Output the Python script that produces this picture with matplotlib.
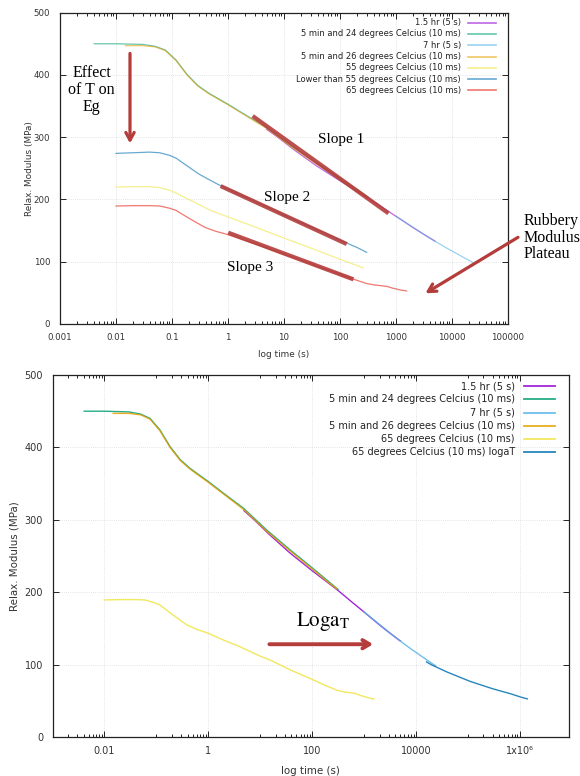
import matplotlib
matplotlib.use('Agg')
import matplotlib.pyplot as plt
from matplotlib.ticker import FixedLocator, FuncFormatter, NullFormatter

plt.rcParams['font.family'] = 'DejaVu Sans'
plt.rcParams['mathtext.fontset'] = 'dejavusans'

# relaxation modulus curves: time (s) and modulus (MPa)
t_15hr = [4.9, 8, 15, 38, 100, 300, 600, 1000, 2000, 3000, 5000]
E_15hr = [312.7, 299, 280, 254, 230, 204, 186, 173, 155, 145, 133]

t_24C = [0.0041, 0.01, 0.03, 0.05, 0.076, 0.118, 0.185, 0.29, 0.45, 0.7, 1,
         1.95, 4.8, 13.4, 38, 100, 200, 316]
E_24C = [450, 450, 449, 446, 440, 424, 401, 383, 371, 361, 353,
         337, 316, 286, 258.5, 234, 216, 204]

t_7hr = [1000, 2000, 4250, 8000, 15000, 24000]
E_7hr = [173, 155.5, 136.6, 122, 108.5, 98.5]

t_26C = [0.0148, 0.03, 0.05, 0.076, 0.118, 0.185, 0.29, 0.45, 0.7, 1,
         1.95, 4.8, 13.4, 38, 100, 200, 300]
E_26C = [447, 447, 445, 439, 423, 400, 382, 370, 360, 352,
         336, 314.5, 284.5, 257, 232.5, 214.5, 205]

t_55C = [0.01, 0.02, 0.04, 0.06, 0.09, 0.12, 0.2, 0.3, 0.5, 1, 3, 10, 30, 100, 200, 260]
E_55C = [220, 220.5, 220.5, 219, 215, 210, 200, 192, 182, 172, 156, 138, 122, 104, 94, 90]

t_low55 = [0.01, 0.02, 0.04, 0.06, 0.09, 0.12, 0.2, 0.3, 0.5, 0.74, 1.5, 4, 10,
           30, 60, 132, 200, 300]
E_low55 = [274, 275, 276, 275, 271, 266, 252, 241, 230, 222, 209, 192, 175,
           156, 144, 130, 123, 115]

t_65C = [0.01, 0.02, 0.04, 0.06, 0.09, 0.117, 0.21, 0.39, 0.6, 1, 2, 4.1, 10, 15.5,
         38, 100, 174, 300, 420, 540, 700, 850, 1000, 1200, 1400, 1550]
E_65C = [189.5, 190, 190, 189.5, 186, 182.6, 168.8, 155, 149, 143.5, 134, 125, 112, 106.7,
         93, 80, 72, 65, 62.5, 61.6, 60.2, 57.8, 56.3, 54.6, 53.6, 53]

t_logaT = [16000, 20000, 40000, 112000, 300000, 670000, 900000, 1100000, 1400000]
E_logaT = [104, 100, 90, 77, 67, 60, 57, 55, 53]

# gnuplot default line colours
gp = ['#9400d3', '#009e73', '#56b4e9', '#e69f00', '#f0e442', '#0072b2', '#e51e10']

top_series = [(t_15hr, E_15hr, '1.5 hr (5 s)'),
              (t_24C, E_24C, '5 min and 24 degrees Celcius (10 ms)'),
              (t_7hr, E_7hr, '7 hr (5 s)'),
              (t_26C, E_26C, '5 min and 26 degrees Celcius (10 ms)'),
              (t_55C, E_55C, '55 degrees Celcius (10 ms)'),
              (t_low55, E_low55, 'Lower than 55 degrees Celcius (10 ms)'),
              (t_65C, E_65C, '65 degrees Celcius (10 ms)')]

bottom_series = [(t_15hr, E_15hr, '1.5 hr (5 s)'),
                 (t_24C, E_24C, '5 min and 24 degrees Celcius (10 ms)'),
                 (t_7hr, E_7hr, '7 hr (5 s)'),
                 (t_26C, E_26C, '5 min and 26 degrees Celcius (10 ms)'),
                 (t_65C, E_65C, '65 degrees Celcius (10 ms)'),
                 (t_logaT, E_logaT, '65 degrees Celcius (10 ms) logaT')]

# hand drawn slope markers (time, MPa)
slope1_t, slope1_E = [2.76, 735], [334, 177.7]
slope2_t, slope2_E = [0.74, 132], [221.5, 128.4]
slope3_t, slope3_E = [1.01, 174], [146.6, 71.7]

arrow_red = '#b43c3a'
serif = 'Liberation Serif'

fig = plt.figure(figsize=(5.8, 7.76), dpi=100)
ax1 = fig.add_axes([0.1034, 0.5825, 0.7724, 0.4012])
ax2 = fig.add_axes([0.0912, 0.0499, 0.8891, 0.4669])


def style_axes(ax, tsize):
    ax.set_xscale('log')
    ax.set_ylim(0, 500)
    ax.set_yticks([0, 100, 200, 300, 400, 500])
    ax.tick_params(which='both', direction='in', top=True, right=True,
                   width=0.7, colors='#222222', labelcolor='#333333', labelsize=tsize)
    ax.tick_params(which='major', length=4.5)
    ax.tick_params(which='minor', length=2.5)
    ax.tick_params(axis='x', pad=6.5)
    ax.tick_params(axis='y', pad=7)
    ax.grid(True, which='major', color='#dcdcdc', lw=0.6, ls=(0, (1, 1.5)))
    for s in ax.spines.values():
        s.set_linewidth(0.9)
        s.set_color('#222222')


def gnuplot_key(ax, lines, labels, xt, x0, x1, ytop, dy, size):
    for i, (ln, lab) in enumerate(zip(lines, labels)):
        y = ytop - i * dy
        ax.text(xt, y, lab, transform=ax.transAxes, ha='right', va='center',
                fontsize=size, color='#222222')
        ax.plot([x0, x1], [y, y], transform=ax.transAxes, color=ln.get_color(),
                lw=ln.get_linewidth() + 0.3, alpha=ln.get_alpha(), clip_on=False)


# ---- top chart ----
lines = []
for i, (t, E, lab) in enumerate(top_series):
    ln, = ax1.plot(t, E, color=gp[i], lw=0.9, alpha=0.6)
    lines.append(ln)
style_axes(ax1, 6.2)
ax1.set_xlim(1e-3, 1e5)
ax1.xaxis.set_major_locator(FixedLocator([10.0 ** k for k in range(-3, 6)]))
ax1.xaxis.set_major_formatter(FuncFormatter(lambda v, p: '%g' % v))
ax1.xaxis.set_minor_locator(FixedLocator([m * 10.0 ** k for k in range(-3, 5) for m in range(2, 10)]))
ax1.xaxis.set_minor_formatter(NullFormatter())
ax1.set_xlabel('log time (s)', fontsize=6.4, color='#333333', va='center')
ax1.xaxis.set_label_coords(0.5, -0.0996)
ax1.set_ylabel('Relax. Modulus (MPa)', fontsize=6.4, color='#333333', va='center')
ax1.yaxis.set_label_coords(-0.069, 0.5)
gnuplot_key(ax1, lines, [s[2] for s in top_series], 0.895, 0.911, 0.973, 0.968, 0.0363, 6.0)

for st, sE in [(slope1_t, slope1_E), (slope2_t, slope2_E), (slope3_t, slope3_E)]:
    ax1.plot(st, sE, color=arrow_red, lw=3.0, alpha=0.9, solid_capstyle='butt')
ax1.text(104, 297, 'Slope 1', family=serif, fontsize=11, ha='center', va='center')
ax1.text(11.2, 203, 'Slope 2', family=serif, fontsize=11, ha='center', va='center')
ax1.text(2.47, 90, 'Slope 3', family=serif, fontsize=11, ha='center', va='center')
ax1.text(0.0037, 376, 'Effect\nof T on\nEg', family=serif, fontsize=11.5,
         ha='center', va='center', linespacing=1.1)
ax1.annotate('', xy=(0.0178, 290), xytext=(0.0178, 434.5),
             arrowprops=dict(arrowstyle='->,head_length=0.55,head_width=0.3',
                             color=arrow_red, lw=2.3, shrinkA=0, shrinkB=0))
ax1.annotate('', xy=(3350, 49.3), xytext=(1.51e5, 139.2), annotation_clip=False,
             arrowprops=dict(arrowstyle='->,head_length=0.55,head_width=0.3',
                             color=arrow_red, lw=2.3, shrinkA=0, shrinkB=0))
fig.text(524 / 580, 1 - 237.7 / 776, 'Rubbery\nModulus\nPlateau', family=serif,
         fontsize=11.5, ha='left', va='center', linespacing=1.05)

# ---- bottom chart ----
lines = []
for i, (t, E, lab) in enumerate(bottom_series):
    ln, = ax2.plot(t, E, color=gp[i], lw=1.0, alpha=0.85)
    lines.append(ln)
style_axes(ax2, 7)
ax2.set_xlim(10 ** -2.99, 10 ** 6.94)
ax2.xaxis.set_major_locator(FixedLocator([1e-2, 1, 1e2, 1e4, 1e6]))
ax2.xaxis.set_major_formatter(FuncFormatter(
    lambda v, p: '1x10\u2076' if v >= 1e6 else '%g' % v))
ax2.xaxis.set_minor_locator(FixedLocator([m * 0.1 * 10.0 ** k for k in range(-2, 9, 2)
                                          for m in range(1, 10)]))
ax2.xaxis.set_minor_formatter(NullFormatter())
ax2.set_xlabel('log time (s)', fontsize=7.4, color='#333333', va='center')
ax2.xaxis.set_label_coords(0.5, -0.093)
ax2.set_ylabel('Relax. Modulus (MPa)', fontsize=7.4, color='#333333', va='center')
ax2.yaxis.set_label_coords(-0.0739, 0.5)
gnuplot_key(ax2, lines, [s[2] for s in bottom_series], 0.896, 0.9145, 0.9746, 0.9685, 0.0362, 7.0)

ax2.text(164, 159.5, r'$\mathrm{Loga}_{\mathrm{T}}$', fontsize=15, ha='center', va='center',
         math_fontfamily='stix')
ax2.annotate('', xy=(1500, 128.4), xytext=(15.1, 128.4),
             arrowprops=dict(arrowstyle='->,head_length=0.5,head_width=0.3',
                             color=arrow_red, lw=2.8, shrinkA=0, shrinkB=0))

fig.savefig('out.png', dpi=100)
